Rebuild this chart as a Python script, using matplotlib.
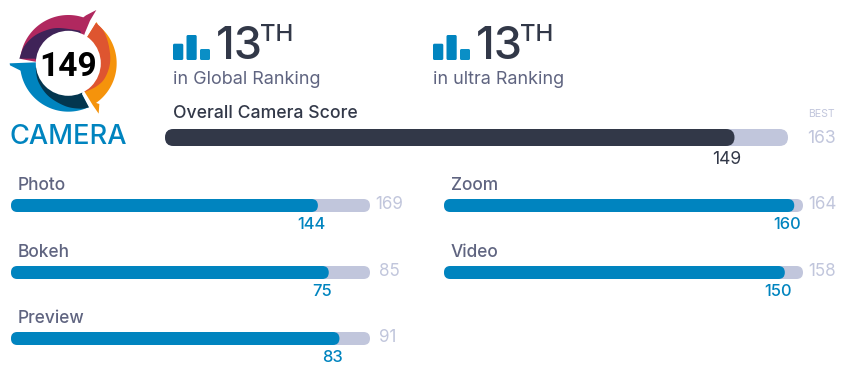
import matplotlib
matplotlib.use("Agg")
import matplotlib.pyplot as plt
import numpy as np
from matplotlib.patches import FancyBboxPatch, Circle, PathPatch
from matplotlib.path import Path

# ---- data ----
overall_label = "Overall Camera Score"
overall_score = 149
overall_best = 163
left_names = ["Photo", "Bokeh", "Preview"]
left_scores = [144, 75, 83]
left_best = [169, 85, 91]
right_names = ["Zoom", "Video"]
right_scores = [160, 150]
right_best = [164, 158]
rank_values = ["13", "13"]
rank_labels = ["in Global Ranking", "in ultra Ranking"]
logo_score = "149"
logo_label = "CAMERA"

DARK = "#323848"
GREY = "#5F6480"
LIGHT = "#C1C6DC"
BLUE = "#0084BF"
FONT = "Inter"

fig = plt.figure(figsize=(8.65, 3.8), dpi=100, facecolor="white")
ax = fig.add_axes([0, 0, 1, 1])
ax.set_xlim(0, 865)
ax.set_ylim(380, 0)
ax.axis("off")


def pt(px):
    return px * 0.72


def txt(x, y, s, size, color, ha="left", va="baseline", weight="normal", family=FONT):
    return ax.text(x, y, s, fontsize=pt(size), color=color, ha=ha, va=va,
                   fontweight=weight, family=family)


def pill(x0, x1, y0, y1, color, z=2):
    r = (y1 - y0) / 2
    ax.add_patch(FancyBboxPatch((x0, y0), x1 - x0, y1 - y0,
                                boxstyle=f"round,pad=0,rounding_size={r}",
                                fc=color, ec="none", zorder=z))


def score_bar(x0, x1, y0, y1, score, best, color, extra=0.0):
    end = x0 + (x1 - x0) * score / best + extra
    pill(x0, x1, y0, y1, LIGHT, 2)
    pill(x0, end, y0, y1, color, 3)
    return end


# overall bar
end = score_bar(165, 788, 129, 146, overall_score, overall_best, DARK)
txt(173, 118, overall_label, 17.6, DARK, weight="medium")
txt(727, 164, str(overall_score), 17.5, DARK, ha="center")
txt(821, 117, "BEST", 10.5, LIGHT, ha="center")
txt(821, 143, str(overall_best), 17.5, LIGHT, ha="center")

# sub bars
left_y = [199, 266, 332]
left_best_x = [389, 389, 388]
for name, s, b, y, bx in zip(left_names, left_scores, left_best, left_y, left_best_x):
    end = score_bar(11, 370, y, y + 13, s, b, BLUE, extra=1.0)
    txt(18, y - 9, name, 17.3, GREY, weight="medium")
    txt(end - 6.5, y + 30, str(s), 16.5, BLUE, ha="center", weight="medium")
    txt(bx, y + 10, str(b), 17, LIGHT, ha="center")

right_y = [199, 266]
for name, s, b, y in zip(right_names, right_scores, right_best, right_y):
    end = score_bar(444, 803, y, y + 13, s, b, BLUE)
    txt(451, y - 9, name, 17.3, GREY, weight="medium")
    txt(end - 7, y + 30, str(s), 16.5, BLUE, ha="center", weight="medium")
    txt(822, y + 10, str(b), 17, LIGHT, ha="center")

# ranking blocks
for dx, val, lab in zip([0, 260], rank_values, rank_labels):
    for x0, x1, y0, c in [(173, 183.3, 43.7, BLUE), (186.5, 196.7, 35, BLUE), (200, 210, 49, "#0A8FC6")]:
        ax.add_patch(FancyBboxPatch((x0 + dx, y0), x1 - x0, 60 - y0,
                                    boxstyle="round,pad=0,rounding_size=1.5",
                                    fc=c, ec="none", zorder=3))
    txt(216 + dx, 59, val, 45, DARK, weight="medium")
    txt(260 + dx, 41, "TH", 24, DARK, weight="medium")
    txt(173 + dx, 84, lab, 18, GREY)


# logo (drawn in the 3x zoom coordinates of the badge)
def shape(points, color, z=5):
    pts = np.array(points, float) / 3.0
    verts = [pts[0]] + list(pts[1:]) + [pts[0]]
    codes = [Path.MOVETO] + [Path.LINETO] * (len(pts) - 1) + [Path.CLOSEPOLY]
    ax.add_patch(PathPatch(Path(verts, codes), fc=color, ec="none", zorder=z))


def arc(a0, a1, r=145, cx=205, cy=190, n=50):
    t = np.radians(np.linspace(a0, a1, n))
    return [(cx + r * np.cos(v), cy - r * np.sin(v)) for v in t]


def smooth(points, n=12):
    p = np.array(points, float)
    out = []
    q = np.vstack([p[0], p, p[-1]])
    for i in range(1, len(q) - 2):
        for t in np.linspace(0, 1, n, endpoint=False):
            a = 2 * q[i] + (q[i + 1] - q[i - 1]) * t \
                + (2 * q[i - 1] - 5 * q[i] + 4 * q[i + 1] - q[i + 2]) * t ** 2 \
                + (3 * q[i] - q[i - 1] - 3 * q[i + 1] + q[i + 2]) * t ** 3
            out.append(tuple(a / 2))
    out.append(tuple(p[-1]))
    return out


INNER = 90
# pink / purple
shape(arc(175, 72) + [(258, 46), (289, 30), (270, 62), (255, 98)] + arc(60, 178, INNER) + [(58, 176)], "#B0285F")
shape(smooth([(58, 176), (72, 140), (100, 110), (135, 92), (175, 84), (240, 92)])
      + arc(62, 178, INNER) + [(105, 176)], "#3F2358", 6)
# red-orange / orange
shape([(290, 66)] + arc(52, -55) + [(298, 312), (296, 341), (278, 315), (254, 276)]
      + arc(-60, 54, INNER), "#F5930B")
shape(smooth([(288, 68), (312, 95), (327, 140), (330, 190), (314, 235), (288, 260), (254, 276)])
      + arc(-60, 54, INNER) + [(262, 110)], "#DE5530", 6)
# blue / dark blue
shape([(29, 190), (108, 187)] + arc(180, 298, INNER) + [(246, 283), (266, 323)] + arc(-66, -175)
      + [(62, 212), (30, 196)], BLUE)
shape(smooth([(107, 205), (115, 245), (145, 288), (195, 318), (240, 326), (267, 322)])
      + [(246, 283)] + arc(298, 185, INNER), "#03364F", 6)

ax.add_patch(Circle((68.3, 63.3), 32.5, fc="white", ec="none", zorder=7))
txt(68.5, 75.5, logo_score, 33.5, "#000000", ha="center", weight="bold", family="Roboto").set_zorder(8)
txt(68.5, 144, logo_label, 27.2, BLUE, ha="center", weight="medium").set_zorder(8)

fig.savefig("out.png", dpi=100, facecolor="white")
